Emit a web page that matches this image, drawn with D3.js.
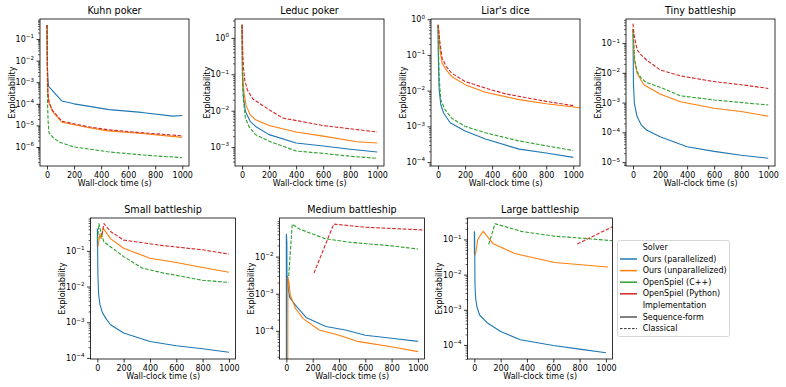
<!DOCTYPE html>
<html><head><meta charset="utf-8">
<script src="https://cdn.jsdelivr.net/npm/d3@7"></script>
<style>
body{margin:0;background:#fff}
svg{font-family:"DejaVu Sans",sans-serif}
</style></head>
<body><svg id="c" width="786" height="387"></svg>
<script>
// ---------------- DATA ----------------
const gameNames = ["Kuhn poker","Leduc poker","Liar's dice","Tiny battleship","Small battleship","Medium battleship","Large battleship"];
const solverNames = ["Ours (parallelized)","Ours (unparallelized)","OpenSpiel (C++)","OpenSpiel (Python)"];
const implNames = ["Sequence-form","Classical"];
const solverImpl = ["Sequence-form","Sequence-form","Classical","Classical"];
const timeTicks = [0,200,400,600,800,1000];
const timeRange = [-52,1050];
// log10 ranges of the y axes and the labelled decades
const yExpRanges = [[-6.88,-0.07],[-3.52,0.52],[-4.11,0.005],[-5.13,-0.19],[-4.03,-0.08],[-4.76,-0.96],[-4.4,-0.39]];
const yMajorExps = [[-6,-5,-4,-3,-2,-1],[-3,-2,-1,0],[-4,-3,-2,-1,0],[-5,-4,-3,-2,-1],[-4,-3,-2,-1],[-4,-3,-2],[-4,-3,-2,-1]];

// [wall-clock seconds, exploitability]
const kuhnPar   = [[0,0.45],[1,0.05],[3,5e-3],[6,1.5e-3],[12,6.5e-4],[110,1.35e-4],[200,1.0e-4],[460,5.4e-5],[700,4e-5],[930,2.7e-5],[1000,2.9e-5]];
const kuhnUnpar = [[0,0.45],[2,2e-2],[4,1.2e-3],[7,2.5e-4],[15,1.1e-4],[40,4.5e-5],[110,1.4e-5],[300,8e-6],[450,5.6e-6],[700,4.2e-6],[1000,2.8e-6]];
const kuhnCpp   = [[0,0.45],[1,3e-2],[2,2e-3],[4,1e-4],[8,1.5e-5],[15,4.5e-6],[50,2.5e-6],[100,1.6e-6],[200,1.0e-6],[450,6e-7],[700,4.3e-7],[1000,3.2e-7]];
const kuhnPy    = [[0,0.45],[2,2.5e-2],[4,1.5e-3],[7,3e-4],[15,1.2e-4],[40,5e-5],[110,1.55e-5],[300,8.8e-6],[450,6.3e-6],[700,4.6e-6],[1000,3.3e-6]];

const leducPar   = [[0,2.3],[3,0.1],[10,0.025],[25,9.5e-3],[60,5.1e-3],[100,3.7e-3],[200,2.2e-3],[400,1.3e-3],[600,1.07e-3],[800,8.7e-4],[1000,7.3e-4]];
const leducUnpar = [[0,2.3],[5,0.1],[15,0.03],[30,0.014],[60,7.8e-3],[100,5.6e-3],[200,3.9e-3],[400,2.6e-3],[600,2.0e-3],[850,1.4e-3],[1000,1.3e-3]];
const leducCpp   = [[0,2.3],[3,0.08],[10,0.02],[25,6.3e-3],[50,3.7e-3],[100,2.2e-3],[200,1.45e-3],[400,7.8e-4],[600,6.7e-4],[800,5.6e-4],[1000,4.9e-4]];
const leducPy    = [[0,2.3],[5,0.46],[10,0.16],[20,0.07],[40,0.037],[80,0.021],[200,0.0107],[300,6.3e-3],[600,3.9e-3],[1000,2.6e-3]];

const liarsPar   = [[0,0.6],[2,0.1],[8,0.011],[20,4.1e-3],[40,2.4e-3],[90,1.26e-3],[200,7.4e-4],[350,4.4e-4],[600,2.3e-4],[800,1.8e-4],[1000,1.35e-4]];
const liarsUnpar = [[0,0.7],[5,0.45],[15,0.14],[30,0.059],[60,0.038],[100,0.025],[200,0.0147],[350,9e-3],[600,5.6e-3],[800,4.3e-3],[1050,3.3e-3]];
const liarsCpp   = [[0,0.7],[3,0.2],[8,0.025],[20,5.6e-3],[50,3e-3],[100,1.7e-3],[200,1.0e-3],[350,6.6e-4],[600,3.9e-4],[1000,2.1e-4]];
const liarsPy    = [[0,0.7],[5,0.5],[15,0.21],[30,0.081],[60,0.048],[100,0.031],[200,0.018],[350,0.0118],[500,8.1e-3],[800,5e-3],[1000,3.8e-3]];

const tinyPar   = [[0,0.3],[1,0.05],[3,4.5e-3],[10,9.5e-4],[30,3.4e-4],[60,1.8e-4],[100,1.2e-4],[200,7.1e-5],[400,3.3e-5],[600,2.3e-5],[800,1.7e-5],[1000,1.35e-5]];
const tinyUnpar = [[0,0.3],[3,0.15],[10,0.027],[30,9.7e-3],[80,4e-3],[200,1.95e-3],[350,1.07e-3],[600,6.5e-4],[800,5e-4],[1000,3.5e-4]];
const tinyCpp   = [[0,0.3],[3,0.15],[10,0.031],[30,0.011],[60,6.6e-3],[100,4.7e-3],[200,3.3e-3],[350,1.7e-3],[600,1.23e-3],[1000,8.3e-4]];
const tinyPy    = [[0,0.45],[3,0.3],[10,0.17],[30,0.06],[60,0.04],[100,0.027],[200,0.0126],[350,7.9e-3],[600,5.1e-3],[800,4e-3],[1000,3e-3]];

const smallPar   = [[0,0.42],[0.4,0.13],[0.8,0.4],[1.2,0.14],[1.6,0.38],[2,0.13],[3,0.05],[5,0.017],[10,5.9e-3],[20,3.1e-3],[40,1.8e-3],[70,1.2e-3],[100,8.5e-4],[200,5e-4],[400,2.9e-4],[600,2.2e-4],[800,1.8e-4],[1000,1.44e-4]];
const smallUnpar = [[5,0.13],[20,0.3],[28,0.22],[45,0.43],[100,0.22],[200,0.118],[400,0.062],[600,0.047],[800,0.034],[1000,0.025]];
const smallCpp   = [[2,0.2],[12,0.58],[30,0.3],[50,0.18],[100,0.13],[200,0.069],[340,0.033],[500,0.024],[800,0.015],[1000,0.013]];
const smallPy    = [[35,0.28],[50,0.58],[100,0.35],[200,0.2],[500,0.14],[800,0.107],[1000,0.081]];

const mediumPar   = [[0,0.04],[0.5,1e-6],[1,0.04],[1.5,5e-4],[2,0.035],[2.5,1e-6],[3,0.03],[3.5,3e-4],[4,0.025],[5,2e-3],[8,3e-3],[15,1.35e-3],[25,8.1e-4],[50,6e-4],[80,4.4e-4],[150,2.3e-4],[300,1.3e-4],[450,1.05e-4],[600,7.6e-5],[800,6.3e-5],[1000,5.2e-5]];
const mediumUnpar = [[10,1e-6],[12,2.8e-3],[20,2e-3],[30,9.1e-4],[70,4e-4],[130,2.1e-4],[250,1.05e-4],[400,7.6e-5],[550,5.1e-5],[800,3.7e-5],[1000,2.75e-5]];
const mediumCpp   = [[18,3e-3],[45,0.075],[100,0.055],[300,0.03],[500,0.024],[800,0.0195],[1000,0.016]];
const mediumPy    = [[210,3.6e-3],[360,0.075],[600,0.062],[1050,0.052]];

const largePar   = [[0,0.17],[0.5,0.04],[1,0.16],[1.5,0.045],[2,0.15],[3,0.04],[5,5e-3],[10,2.1e-3],[20,1.2e-3],[40,7.1e-4],[100,4.2e-4],[200,2.4e-4],[350,1.4e-4],[600,9.6e-5],[800,7.6e-5],[1000,6e-5]];
const largeUnpar = [[8,0.036],[25,0.096],[45,0.13],[68,0.17],[140,0.077],[305,0.04],[610,0.022],[1015,0.0165]];
const largeCpp   = [[109,0.072],[157,0.28],[355,0.17],[609,0.124],[838,0.107],[1048,0.092]];
const largePy    = [[782,0.074],[1050,0.23]];

const gameSeries = [
  [kuhnPar,kuhnUnpar,kuhnCpp,kuhnPy],
  [leducPar,leducUnpar,leducCpp,leducPy],
  [liarsPar,liarsUnpar,liarsCpp,liarsPy],
  [tinyPar,tinyUnpar,tinyCpp,tinyPy],
  [smallPar,smallUnpar,smallCpp,smallPy],
  [mediumPar,mediumUnpar,mediumCpp,mediumPy],
  [largePar,largeUnpar,largeCpp,largePy]
];

// ---------------- STYLE / LAYOUT ----------------
const solverColors = ["#1f77b4","#ff7f0e","#2ca02c","#d62728"];
const implDash = {"Sequence-form":null,"Classical":"3.7,1.6"};
const panels = [
  {x:40,y:19,w:149,h:147},{x:235,y:19,w:149,h:147},{x:431,y:19,w:149,h:147},{x:626,y:19,w:149,h:147},
  {x:90.5,y:218,w:145,h:141},{x:279.5,y:218,w:145,h:141},{x:467.5,y:218,w:145,h:141}
];
const FS = 8, TFS = 9.6;
const svg = d3.select("#c");
const sup = s => s.replace("-", "\u2212");

panels.forEach((p, gi) => {
  const x = d3.scaleLinear().domain(timeRange).range([p.x, p.x + p.w]);
  const [lo, hi] = yExpRanges[gi];
  const y = d3.scaleLog().domain([Math.pow(10, lo), Math.pow(10, hi)]).range([p.y + p.h, p.y]);
  const g = svg.append("g");
  const cid = "clip" + gi;
  svg.append("clipPath").attr("id", cid).append("rect").attr("x", p.x).attr("y", p.y).attr("width", p.w).attr("height", p.h);

  // lines
  const line = d3.line().x(d => x(d[0])).y(d => y(d[1]));
  const lg = g.append("g").attr("clip-path", `url(#${cid})`);
  gameSeries[gi].forEach((data, si) => {
    lg.append("path").datum(data).attr("d", line)
      .attr("fill", "none").attr("stroke", solverColors[si]).attr("stroke-width", 1.1)
      .attr("stroke-linejoin", "round")
      .attr("stroke-dasharray", implDash[solverImpl[si]]);
  });

  // x axis
  const xa = g.append("g").attr("transform", `translate(0,${p.y + p.h})`)
    .call(d3.axisBottom(x).tickValues(timeTicks).tickFormat(d3.format("d")).tickSize(3.5).tickPadding(2.5).tickSizeOuter(0));
  xa.select(".domain").remove();
  xa.selectAll("line").attr("stroke", "#000").attr("stroke-width", 0.8);
  xa.selectAll("text").attr("font-size", FS).attr("fill", "#000").attr("font-family", "DejaVu Sans");

  // y axis minor
  const minors = [];
  for (let e = Math.floor(lo); e <= Math.ceil(hi); e++)
    for (let k = 2; k <= 9; k++) { const v = k * Math.pow(10, e); if (Math.log10(v) >= lo && Math.log10(v) <= hi) minors.push(v); }
  const ym = g.append("g").attr("transform", `translate(${p.x},0)`)
    .call(d3.axisLeft(y).tickValues(minors).tickSize(2).tickFormat(""));
  ym.select(".domain").remove();
  ym.selectAll("line").attr("stroke", "#000").attr("stroke-width", 0.6);

  // y axis major
  const majors = yMajorExps[gi].map(e => Math.pow(10, e));
  const ya = g.append("g").attr("transform", `translate(${p.x},0)`)
    .call(d3.axisLeft(y).tickValues(majors).tickSize(3.5).tickFormat(""));
  ya.select(".domain").remove();
  ya.selectAll("line").attr("stroke", "#000").attr("stroke-width", 0.8);
  yMajorExps[gi].forEach(e => {
    const t = g.append("text").attr("x", p.x - 6).attr("y", y(Math.pow(10, e)) + 3)
      .attr("text-anchor", "end").attr("font-size", FS).attr("fill", "#000");
    t.append("tspan").text("10");
    t.append("tspan").attr("font-size", 5.6).attr("dy", -3.6).text(sup(String(e)));
  });

  // frame
  g.append("rect").attr("x", p.x).attr("y", p.y).attr("width", p.w).attr("height", p.h)
    .attr("fill", "none").attr("stroke", "#000").attr("stroke-width", 0.8);

  // labels
  g.append("text").attr("x", p.x + p.w / 2).attr("y", p.y - 5).attr("text-anchor", "middle")
    .attr("font-size", TFS).attr("fill", "#000").text(gameNames[gi]);
  g.append("text").attr("x", x(500)).attr("y", p.y + p.h + 19.5).attr("text-anchor", "middle")
    .attr("font-size", FS).attr("fill", "#000").text("Wall-clock time (s)");
  g.append("text").attr("transform", `translate(${p.x - 28},${p.y + p.h / 2}) rotate(-90)`)
    .attr("text-anchor", "middle").attr("dominant-baseline", "central")
    .attr("font-size", FS).attr("fill", "#000").text("Exploitability");
});

// ---------------- LEGEND ----------------
const L = {x:617.5, y:240.5, w:112, h:96, row:11.6, first:247.4, hx0:620, hx1:637, tx:642.7};
const leg = svg.append("g");
leg.append("rect").attr("x", L.x).attr("y", L.y).attr("width", L.w).attr("height", L.h).attr("rx", 2)
  .attr("fill", "#fff").attr("fill-opacity", 0.8).attr("stroke", "#cccccc").attr("stroke-width", 0.8);
const entries = [{label:"Solver"}]
  .concat(solverNames.map((s, i) => ({label:s, color:solverColors[i], dash:null, w:1.5})))
  .concat([{label:"Implementation"}])
  .concat(implNames.map(s => ({label:s, color: s === "Classical" ? "#333" : "#808080", dash: implDash[s] ? "2.6,1.4" : null, w: s === "Classical" ? 1 : 2})));
entries.forEach((e, i) => {
  const yy = L.first + i * L.row;
  if (e.color) leg.append("line").attr("x1", L.hx0).attr("x2", L.hx1).attr("y1", yy).attr("y2", yy)
    .attr("stroke", e.color).attr("stroke-width", e.w).attr("stroke-dasharray", e.dash);
  leg.append("text").attr("x", L.tx).attr("y", yy).attr("dominant-baseline", "central")
    .attr("font-size", FS).attr("fill", "#000").text(e.label);
});
</script></body></html>
